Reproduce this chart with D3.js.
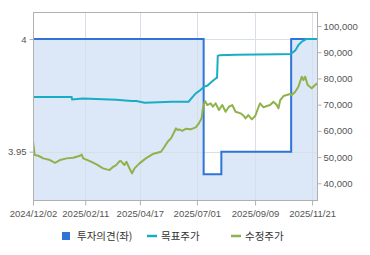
<!DOCTYPE html>
<html><head><meta charset="utf-8">
<script src="https://cdn.jsdelivr.net/npm/d3@7"></script>
<style>body{margin:0;background:#fff}svg{display:block}</style>
</head><body><svg id="c" width="370" height="255"></svg>
<script>
// x positions are trading-day indices from 2024/12/02
const tickDays = [0, 44, 90, 138, 187, 235];
const tickLabels = ["2024/12/02","2025/02/11","2025/04/17","2025/07/01","2025/09/09","2025/11/21"];
const leftTicks = [3.95, 4];
const rightTicks = [40000, 50000, 60000, 70000, 80000, 90000, 100000];
const seriesNames = ["투자의견(좌)", "목표주가", "수정주가"];

// investment opinion (step)
const opinionDays = [0, 143.7, 158.6, 217.4, 240];
const opinionVals = [4, 3.94, 3.95, 4, 4];

// target price
const targetDays = [0, 32.5, 33, 42, 70, 83, 87, 94, 117, 131, 137, 141, 144, 147, 150, 153, 155, 155.6, 157, 171, 206, 217, 220.8, 223.5, 226.3, 230, 240];
const targetVals = [72900, 72900, 72000, 72300, 71900, 71400, 71400, 70700, 71100, 71100, 74300, 75600, 76800, 77300, 78500, 79700, 80300, 88600, 88800, 89000, 89200, 89300, 90600, 92700, 94000, 95000, 95000];

// adjusted price
const priceDays = [0, 1.4, 4.5, 8.7, 14.3, 18.5, 22.7, 28.3, 33.9, 39.5, 41, 42.3, 47.9, 53.5, 59, 62, 64.5, 67.5, 70, 73, 74, 77, 78.7, 81, 83.4, 85.5, 89.7, 95, 100.8, 107.8, 110.7, 113.4, 116.2, 119, 120.4, 121.8, 123, 125.8, 128.6, 132.8, 137, 139.7, 142, 143.1, 144.8, 146.8, 149.6, 151.5, 153.8, 156.6, 159.4, 162.2, 165, 167.8, 170.6, 174.8, 177.6, 179, 181.3, 184.3, 187.1, 190, 191.3, 194.1, 196.9, 199.7, 202.5, 205.3, 206.7, 208.2, 210.9, 213.7, 216.6, 217.9, 220.8, 223.5, 226.3, 227.7, 229.2, 231.3, 234.7, 237.6, 240];
const priceVals = [56100, 50760, 50500, 49500, 48850, 47820, 48850, 49500, 49730, 50500, 50950, 49500, 48470, 47210, 45690, 45300, 45040, 46300, 46950, 48470, 48470, 46950, 48200, 45920, 43780, 45690, 47600, 49500, 51150, 52020, 53930, 55840, 57140, 59660, 60950, 60300, 60570, 60000, 60800, 60570, 61330, 62860, 64770, 68590, 71370, 69850, 70500, 69200, 70500, 67940, 69850, 67290, 69200, 69850, 67290, 66680, 65650, 64770, 66030, 64390, 65650, 69200, 70500, 68970, 69470, 69850, 71110, 69850, 68590, 71760, 73280, 73660, 74050, 73660, 74920, 76830, 80650, 79390, 80650, 77480, 76220, 77480, 78360];

const colors = {opinion: "#2f74d6", fill: "#dce7f8", target: "#19adc3", price: "#8fb24a", grid: "#d9dfe8", frame: "#b0b0b0", text: "#555"};

const L = 33, R = 318, T = 12, B = 201;
const svg = d3.select("#c");
const x = d3.scaleLinear().domain([0, 240]).range([L, R]);
const yL = d3.scaleLinear().domain([3.9281, 4.012]).range([B, T]);
const yR = d3.scaleLinear().domain([33240, 105340]).range([B, T]);
const numFont = "'Liberation Sans', Arial, sans-serif";

const opinion = opinionDays.map((d, i) => [d, opinionVals[i]]);
const target = targetDays.map((d, i) => [d, targetVals[i]]);
const price = priceDays.map((d, i) => [d, priceVals[i]]);

svg.append("defs").append("clipPath").attr("id", "clip")
  .append("rect").attr("x", L).attr("y", T).attr("width", R - L).attr("height", B - T);

const g = svg.append("g").attr("clip-path", "url(#clip)");
g.append("path").datum(opinion)
  .attr("d", d3.area().curve(d3.curveStepAfter).x(d => x(d[0])).y0(B).y1(d => yL(d[1])))
  .attr("fill", colors.fill);

// grid
g.selectAll(".vg").data(tickDays.slice(1)).join("line")
  .attr("x1", d => Math.round(x(d)) + 0.5).attr("x2", d => Math.round(x(d)) + 0.5)
  .attr("y1", T).attr("y2", B).attr("stroke", colors.grid).attr("stroke-width", 1);
g.selectAll(".hg").data(leftTicks).join("line")
  .attr("x1", L).attr("x2", R)
  .attr("y1", d => Math.round(yL(d)) + 0.5).attr("y2", d => Math.round(yL(d)) + 0.5)
  .attr("stroke", colors.grid).attr("stroke-width", 1);

g.append("path").datum(opinion)
  .attr("d", d3.line().curve(d3.curveStepAfter).x(d => x(d[0])).y(d => yL(d[1])))
  .attr("fill", "none").attr("stroke", colors.opinion).attr("stroke-width", 2);
g.append("path").datum(target)
  .attr("d", d3.line().x(d => x(d[0])).y(d => yR(d[1])))
  .attr("fill", "none").attr("stroke", colors.target).attr("stroke-width", 2);
g.append("path").datum(price)
  .attr("d", d3.line().x(d => x(d[0])).y(d => yR(d[1])))
  .attr("fill", "none").attr("stroke", colors.price).attr("stroke-width", 2).attr("stroke-linejoin", "round");

// frame
svg.append("rect").attr("x", L + 0.5).attr("y", T + 0.5).attr("width", R - L - 1).attr("height", B - T - 1)
  .attr("fill", "none").attr("stroke", colors.frame).attr("stroke-width", 1);

// axes
const styleAxis = sel => {
  sel.select(".domain").remove();
  sel.selectAll(".tick line").attr("stroke", colors.frame);
  sel.selectAll(".tick text").attr("fill", colors.text).attr("font-family", numFont).attr("font-size", "9.5px");
};
svg.append("g").attr("transform", `translate(${L + 0.5},0)`)
  .call(d3.axisLeft(yL).tickValues(leftTicks).tickFormat(d => d === 4 ? "4" : d3.format(".2f")(d)).tickSize(4).tickPadding(3))
  .call(styleAxis);
svg.append("g").attr("transform", `translate(${R - 0.5},0)`)
  .call(d3.axisRight(yR).tickValues(rightTicks).tickFormat(d3.format(",")).tickSize(4).tickPadding(2))
  .call(styleAxis);
svg.append("g").attr("transform", `translate(0,${B - 0.5})`)
  .call(d3.axisBottom(x).tickValues(tickDays).tickFormat((d, i) => tickLabels[i]).tickSize(5).tickPadding(5))
  .call(styleAxis);

// legend
const lg = svg.append("g").attr("font-family", "'Noto Sans CJK KR', sans-serif").attr("font-size", "10.5px").attr("fill", "#333");
const ly = 236;
lg.append("rect").attr("x", 62).attr("y", ly - 4).attr("width", 8).attr("height", 8).attr("fill", colors.opinion);
lg.append("text").attr("x", 77).attr("y", ly).attr("dy", "0.36em").text(seriesNames[0]);
lg.append("line").attr("x1", 147).attr("x2", 157).attr("y1", ly).attr("y2", ly).attr("stroke", colors.target).attr("stroke-width", 2.5);
lg.append("text").attr("x", 161).attr("y", ly).attr("dy", "0.36em").text(seriesNames[1]);
lg.append("line").attr("x1", 231).attr("x2", 241).attr("y1", ly).attr("y2", ly).attr("stroke", colors.price).attr("stroke-width", 2.5);
lg.append("text").attr("x", 245).attr("y", ly).attr("dy", "0.36em").text(seriesNames[2]);
</script></body></html>
